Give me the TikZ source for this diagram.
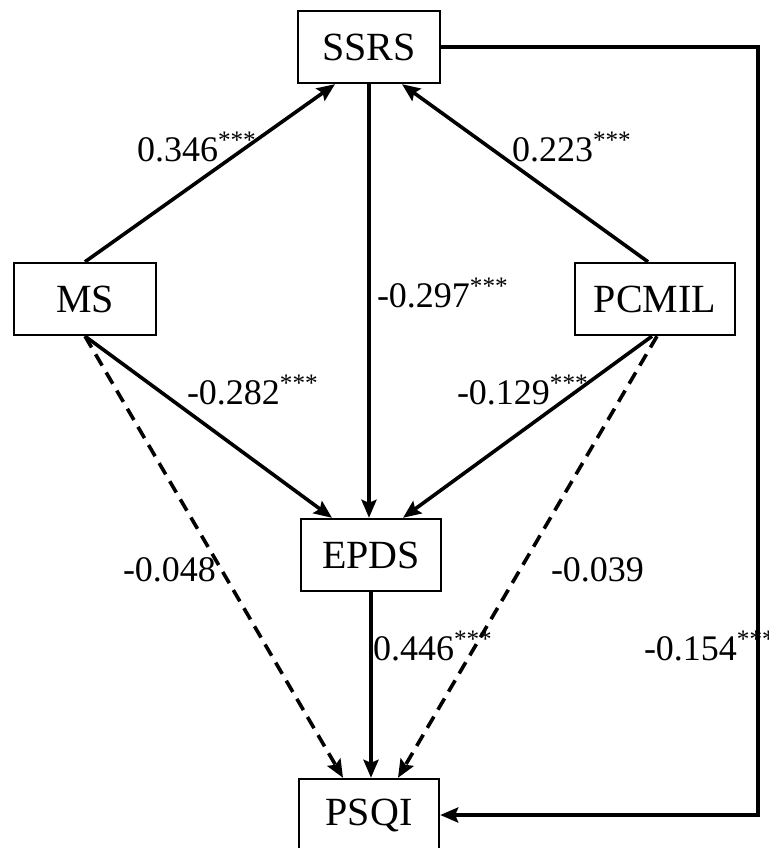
\documentclass[tikz,border=0pt]{standalone}
\usepackage{fontspec}
\setmainfont{Liberation Serif}
\usetikzlibrary{arrows.meta,positioning,calc}
\tikzset{
  every picture/.style={line width=1pt},
  var/.style={draw, line width=1.2pt, minimum width=71pt, minimum height=36pt, inner sep=0pt, font=\fontsize{20}{24}\selectfont},
  flow/.style={-{Stealth[length=9pt,width=7.5pt,inset=1.5pt]}, line width=1.8pt},
  weak/.style={flow, dash pattern=on 6.5pt off 4pt},
  coef/.style={anchor=base west, inner sep=0pt, font=\fontsize{18}{22}\selectfont},
}

\begin{document}
\begin{tikzpicture}[x=0.5pt,y=-0.5pt]
  \useasboundingbox (0,0) rectangle (768,848);
  % measured variables
  \node[var] (ssrs) at (369,47) {SSRS};
  \node[var] (ms) at (85,299) {MS};
  \node[var, minimum width=80pt] (pcmil) at (655,299) {PCMIL};
  \node[var, minimum width=70pt] (epds) at (371,555) {EPDS};
  \node[var, minimum width=70pt] (psqi) at (369,815) {PSQI};
  \coordinate (turn) at (758,0);
  % paths into SSRS and EPDS
  \draw[flow] (ms.north) -- ($(ssrs.south)+(-34,0)$);
  \draw[flow] ($(pcmil.north)+(-7,0)$) -- ($(ssrs.south)+(33,0)$);
  \draw[flow] (ssrs.south) -- (ssrs.south |- epds.north);
  \draw[flow] (ms.south) -- ($(epds.north)+(-39,0)$);
  \draw[flow] ($(pcmil.south)+(-3,0)$) -- ($(epds.north)+(32,0)$);
  % paths into PSQI
  \draw[flow] (epds.south) -- (epds.south |- psqi.north);
  \draw[weak] (ms.south) -- ($(psqi.north)+(-26,0)$);
  \draw[weak] ($(pcmil.south)+(2,0)$) -- ($(psqi.north)+(29,0)$);
  \draw[flow] (ssrs.east) -- (ssrs.east -| turn) -- (turn |- psqi.east) -- (psqi.east);
  % coefficients
  \node[coef] (c1) at (136,161) {0.346\textsuperscript{***}};
  \node[coef] (c2) at (511,161) {0.223\textsuperscript{***}};
  \node[coef] (c3) at (376,307) {-0.297\textsuperscript{***}};
  \node[coef] (c4) at (186,404) {-0.282\textsuperscript{***}};
  \node[coef] (c5) at (456,404) {-0.129\textsuperscript{***}};
  \node[coef] (c6) at (122,581) {-0.048};
  \node[coef] (c7) at (550,581) {-0.039};
  \node[coef] (c8) at (372,660) {0.446\textsuperscript{***}};
  \node[coef] (c9) at (643,660) {-0.154\textsuperscript{***}};
\end{tikzpicture}
\end{document}
